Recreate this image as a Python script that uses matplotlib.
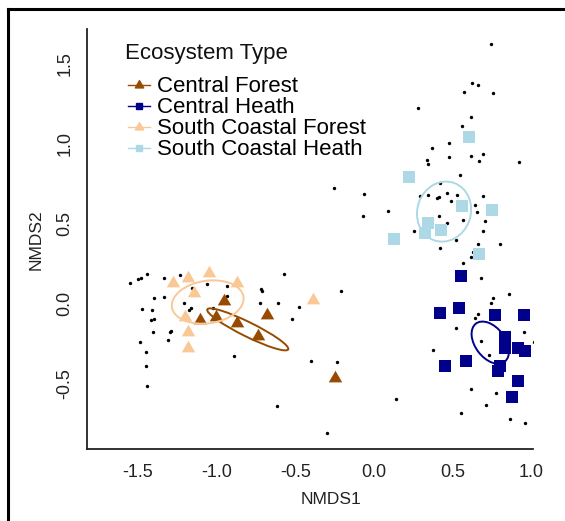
import matplotlib
matplotlib.use("Agg")
import matplotlib.pyplot as plt
from matplotlib.patches import Ellipse
from matplotlib.lines import Line2D
from matplotlib.path import Path

plt.rcParams['font.family'] = ['Liberation Sans', 'DejaVu Sans']

# site scores per ecosystem type
cf_x = [-0.951, -1.006, -1.106, -0.872, -0.681, -0.735, -0.247]
cf_y = [0.016, -0.084, -0.104, -0.121, -0.073, -0.204, -0.465]

ch_x = [0.553, 0.419, 0.541, 0.774, 0.953, 0.832, 0.837, 0.919, 0.963, 0.587, 0.455, 0.806, 0.790, 0.919, 0.878]
ch_y = [0.173, -0.062, -0.031, -0.073, -0.073, -0.208, -0.277, -0.281, -0.298, -0.360, -0.392, -0.390, -0.423, -0.485, -0.583]

scf_x = [-1.275, -1.180, -1.046, -0.872, -1.144, -1.201, -1.180, -1.180, -0.389]
scf_y = [0.125, 0.156, 0.191, 0.125, 0.066, -0.084, -0.178, -0.281, 0.021]

sch_x = [0.606, 0.224, 0.564, 0.752, 0.343, 0.327, 0.426, 0.126, 0.671]
sch_y = [1.041, 0.792, 0.608, 0.583, 0.500, 0.442, 0.458, 0.402, 0.306]

# species scores (small black dots)
sp_x = [-1.551, -1.498, -1.483, -1.445, -1.333, -1.233, -1.059, -0.936, -1.155, -1.396,
        -1.333, -1.205, -1.165, -1.174, -1.473, -1.413, -1.419, -1.398, -1.406, -1.290,
        -1.296, -1.311, -1.487, -1.451, -1.449, -1.445, -0.887, -1.021, -0.936, -0.719,
        -0.713, -0.724, -0.607, -0.569, -0.474, -0.520, -0.211, -0.401, -0.232, -0.618,
        -0.300, 0.144, -0.251,
        0.746, 0.623, 0.665, 0.574, 0.756, 0.283, 0.618, 0.563, 0.370, 0.476,
        0.480, 0.618, 0.697, 0.671, 0.336, 0.343, 0.924, 0.546, 0.423, -0.062,
        -0.069, 0.092, 0.294, 0.343, 0.404, 0.415, 0.464, 0.491, 0.531, 0.693,
        0.646, 0.658, 0.415, 0.569, 0.705, 0.468, 0.258, 0.693, 0.523, 0.803,
        0.423, 0.663, 0.633, 0.616, 0.566,
        0.682, 0.862, 0.756, 0.746, 0.665, 0.644, 0.523, 0.955, 1.019, 0.682,
        0.735, 0.378, 0.618, 0.775, 0.714, 0.553, 0.866, 0.962]
sp_y = [0.125, 0.150, 0.160, 0.181, 0.156, 0.175, 0.121, 0.108, 0.094, 0.035,
        0.041, 0.000, -0.031, -0.042, -0.038, -0.042, -0.104, -0.098, -0.179, -0.171,
        -0.181, -0.229, -0.242, -0.306, -0.390, -0.519, -0.331, -0.031, 0.046, 0.089,
        0.075, 0.000, 0.000, 0.181, -0.021, -0.096, 0.079, -0.359, -0.365, -0.642,
        -0.813, -0.600, 0.723,
        1.621, 1.379, 1.364, 1.323, 1.313, 1.223, 1.166, 1.108, 0.973, 1.002,
        0.916, 0.923, 0.931, 0.888, 0.898, 0.869, 0.885, 0.800, 0.754, 0.685,
        0.546, 0.577, 0.673, 0.676, 0.656, 0.663, 0.689, 0.641, 0.679, 0.673,
        0.614, 0.573, 0.546, 0.521, 0.516, 0.502, 0.450, 0.450, 0.398, 0.373,
        0.348, 0.369, 0.323, 0.291, 0.254,
        0.156, 0.058, 0.031, 0.000, -0.067, -0.092, -0.153, -0.178, -0.244, -0.236,
        -0.323, -0.292, -0.538, -0.563, -0.638, -0.688, -0.725, -0.746]

groups = ["Central Forest", "Central Heath", "South Coastal Forest", "South Coastal Heath"]
colors = ["#964B00", "#00008B", "#FAC896", "#ADD8E6"]

# ellipse centre, semi axes, angle per group
ell_cx = [-0.802, 0.741, -1.057, 0.447]
ell_cy = [-0.163, -0.246, 0.008, 0.573]
ell_a = [0.286, 0.150, 0.230, 0.190]
ell_b = [0.045, 0.095, 0.133, 0.170]
ell_ang = [-25.9, -52, 8, 70]

tri = Path([(-0.5, -0.289), (0.5, -0.289), (0, 0.577), (-0.5, -0.289)],
           [Path.MOVETO, Path.LINETO, Path.LINETO, Path.CLOSEPOLY])

fig = plt.figure(figsize=(5.65, 5.21), dpi=100)
ax = fig.add_axes([87.3 / 565, 1 - 449.3 / 521, 445.4 / 565, 420 / 521])

ax.scatter(sp_x, sp_y, s=6, color="black", linewidths=0, zorder=2)

ax.scatter(cf_x, cf_y, marker=tri, s=125, color=colors[0], linewidths=0, zorder=3)
ax.scatter(ch_x, ch_y, marker="s", s=70, color=colors[1], linewidths=0, zorder=3)
ax.scatter(scf_x, scf_y, marker=tri, s=125, color=colors[2], linewidths=0, zorder=3)
ax.scatter(sch_x, sch_y, marker="s", s=70, color=colors[3], linewidths=0, zorder=3)

for i in range(4):
    e = Ellipse((ell_cx[i], ell_cy[i]), 2 * ell_a[i], 2 * ell_b[i], angle=ell_ang[i],
                fill=False, edgecolor=colors[i], lw=1.4, zorder=4)
    ax.add_patch(e)

ax.set_xlim(-1.823, 1.011)
ax.set_ylim(-0.9125, 1.7125)
ax.set_xticks([-1.5, -1.0, -0.5, 0.0, 0.5, 1.0])
ax.set_xticklabels(["-1.5", "-1.0", "-0.5", "0.0", "0.5", "1.0"])
ax.set_yticks([-0.5, 0.0, 0.5, 1.0, 1.5])
ax.set_yticklabels(["-0.5", "0.0", "0.5", "1.0", "1.5"])
ax.tick_params(length=0, labelsize=13, colors="#222222")
ax.tick_params(axis="x", pad=10.5)
ax.tick_params(axis="y", pad=10)
for lab in ax.get_yticklabels():
    lab.set_rotation(90)
    lab.set_va("center")

for side in ["top", "right"]:
    ax.spines[side].set_visible(False)
for side in ["left", "bottom"]:
    ax.spines[side].set_linewidth(1.3)
    ax.spines[side].set_color("#222222")

ax.set_xlabel("NMDS1", fontsize=12.5, color="#222222")
ax.set_ylabel("NMDS2", fontsize=12.5, color="#222222")
ax.xaxis.label.set_va("center")
ax.yaxis.label.set_va("center")
ax.xaxis.set_label_coords(0.548, -0.1207)
ax.yaxis.set_label_coords(-0.115, 0.5)

# legend
fig.text(125 / 565, 1 - 54 / 521, "Ecosystem Type", fontsize=16, va="center", ha="left", color="#111111")
handles = [
    Line2D([], [], color=colors[0], marker=tri, markersize=7, lw=1),
    Line2D([], [], color=colors[1], marker="s", markersize=5, lw=1),
    Line2D([], [], color=colors[2], marker=tri, markersize=7, lw=1),
    Line2D([], [], color=colors[3], marker="s", markersize=5, lw=1),
]
fig.legend(handles, groups, loc="center left", bbox_to_anchor=(128 / 565, 1 - 118.4 / 521),
           frameon=False, fontsize=16, borderpad=0, borderaxespad=0,
           handlelength=1.0, handletextpad=0.3, labelspacing=0.0)

# outer frame (top and left edges)
fig.add_artist(Line2D([8 / 565, 8 / 565], [0, 1 - 9 / 521], transform=fig.transFigure, color="black", lw=2.2))
fig.add_artist(Line2D([8 / 565, 1], [1 - 9 / 521, 1 - 9 / 521], transform=fig.transFigure, color="black", lw=2.2))

fig.savefig("out.png", dpi=100)
